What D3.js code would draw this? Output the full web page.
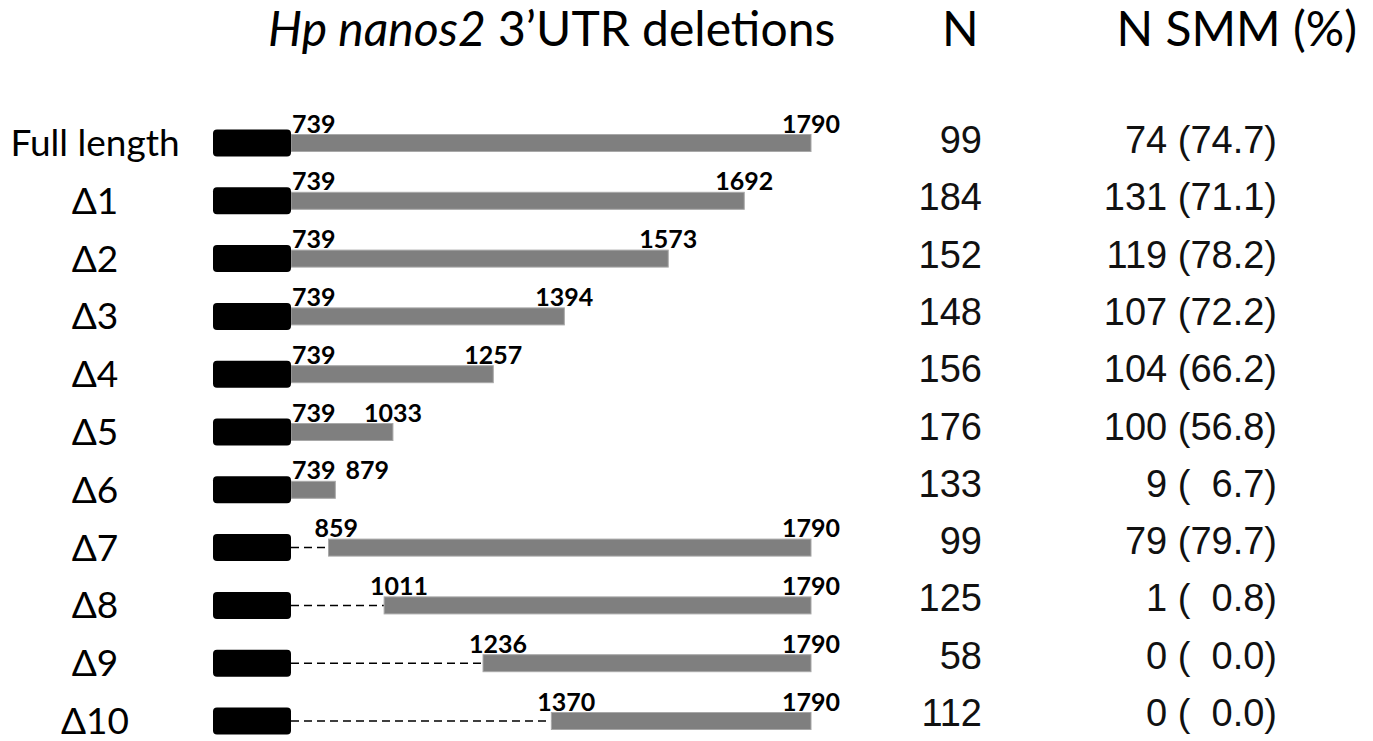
<!DOCTYPE html>
<html>
<head>
<meta charset="utf-8">
<script src="https://cdn.jsdelivr.net/npm/d3@7"></script>
<style>
  html, body { margin: 0; padding: 0; background: #fff; }
  svg text { white-space: pre; }
</style>
</head>
<body>
<svg id="chart" width="1373" height="741"></svg>
<script>
// construct names, nucleotide positions of the kept 3'UTR piece, and the counts
const rowNames = ["Full length", "Δ1", "Δ2", "Δ3", "Δ4", "Δ5", "Δ6", "Δ7", "Δ8", "Δ9", "Δ10"];
const utrStart = [739, 739, 739, 739, 739, 739, 739, 859, 1011, 1236, 1370];
const utrEnd = [1790, 1692, 1573, 1394, 1257, 1033, 879, 1790, 1790, 1790, 1790];
const nTotal = [99, 184, 152, 148, 156, 176, 133, 99, 125, 58, 112];
const nSmm = [74, 131, 119, 107, 104, 100, 9, 79, 1, 0, 0];
const pctSmm = [74.7, 71.1, 78.2, 72.2, 66.2, 56.8, 6.7, 79.7, 0.8, 0.0, 0.0];

const cdsEnd = 739;   // black box = coding region, ends where the 3'UTR starts
const utrMax = 1790;

const rows = rowNames.map((name, i) => ({
  name,
  start: utrStart[i],
  end: utrEnd[i],
  n: nTotal[i],
  smm: nSmm[i],
  pct: pctSmm[i],
}));

const svg = d3.select("#chart");

const boxW = 78, boxH = 27, barH = 17;
const sansFont = "Lato, 'Open Sans', sans-serif";

// schematic, not to scale: a squared scale is closer to the drawing than a linear one
const x = d3.scalePow().exponent(2).domain([cdsEnd, utrMax]).range([291, 811]);
const y = d3.scalePoint().domain(rowNames).range([143, 721]);
const yTable = d3.scalePoint().domain(rowNames).range([140, 713]);

const fmtPct = d3.format(".1f");
const pctText = (d) => `${d.smm} (${d.pct < 10 ? "  " : ""}${fmtPct(d.pct)})`;

// headers
const title = svg.append("text")
  .attr("x", 268).attr("y", 46)
  .attr("font-family", sansFont)
  .attr("font-size", 48)
  .attr("fill", "#000");
title.append("tspan").attr("font-style", "italic").text("Hp nanos2");
title.append("tspan").text(" 3’UTR deletions");

svg.append("text")
  .attr("x", 942).attr("y", 46)
  .attr("font-family", sansFont)
  .attr("font-size", 48)
  .text("N");

svg.append("text")
  .attr("x", 1357).attr("y", 46)
  .attr("text-anchor", "end")
  .attr("font-family", sansFont)
  .attr("font-size", 48)
  .text("N SMM (%)");

// row labels
svg.append("g")
  .selectAll("text")
  .data(rows)
  .enter()
  .append("text")
  .attr("x", 95)
  .attr("y", (d) => y(d.name) + 13)
  .attr("text-anchor", "middle")
  .attr("font-family", sansFont)
  .attr("font-size", 37)
  .text((d) => d.name);

const g = svg.append("g");

// dashed line for the deleted part
g.selectAll("line.gap")
  .data(rows.filter((d) => d.start > cdsEnd))
  .enter()
  .append("line")
  .attr("class", "gap")
  .attr("x1", x(cdsEnd))
  .attr("x2", (d) => x(d.start))
  .attr("y1", (d) => y(d.name))
  .attr("y2", (d) => y(d.name))
  .attr("stroke", "#000")
  .attr("stroke-width", 1.5)
  .attr("stroke-dasharray", "8,5");

// 3'UTR bars
g.selectAll("rect.utr")
  .data(rows)
  .enter()
  .append("rect")
  .attr("class", "utr")
  .attr("x", (d) => x(d.start))
  .attr("y", (d) => y(d.name) - barH / 2)
  .attr("width", (d) => x(d.end) - x(d.start))
  .attr("height", barH)
  .attr("fill", "#7f7f7f")
  .attr("stroke", "#a8a8a8")
  .attr("stroke-width", 1);

// coding region boxes
g.selectAll("rect.cds")
  .data(rows)
  .enter()
  .append("rect")
  .attr("class", "cds")
  .attr("x", x(cdsEnd) - boxW)
  .attr("y", (d) => y(d.name) - boxH / 2)
  .attr("width", boxW)
  .attr("height", boxH)
  .attr("rx", 4)
  .attr("fill", "#000");

// start / end position labels
const startX = (d) => (d.start > cdsEnd ? x(d.start) - 14 : x(d.start) + 1);

g.selectAll("text.start")
  .data(rows)
  .enter()
  .append("text")
  .attr("class", "start")
  .attr("x", startX)
  .attr("y", (d) => y(d.name) - barH / 2 - 2)
  .attr("font-family", sansFont)
  .attr("font-weight", 700)
  .attr("font-size", 25)
  .text((d) => d.start)
  .each(function (d) { d.startW = this.getComputedTextLength(); });

g.selectAll("text.end")
  .data(rows)
  .enter()
  .append("text")
  .attr("class", "end")
  .attr("y", (d) => y(d.name) - barH / 2 - 2)
  .attr("text-anchor", "middle")
  .attr("font-family", sansFont)
  .attr("font-weight", 700)
  .attr("font-size", 25)
  .text((d) => d.end)
  .each(function (d) {
    // short bars: push the end label clear of the start label
    const w = this.getComputedTextLength();
    const minX = startX(d) + d.startW + 10 + w / 2;
    d3.select(this).attr("x", Math.max(x(d.end), minX));
  });

// table columns
const t = svg.append("g")
  .attr("font-family", "'Liberation Sans', Arial, sans-serif")
  .attr("font-size", 38)
  .attr("fill", "#111");

t.selectAll("text.n")
  .data(rows)
  .enter()
  .append("text")
  .attr("class", "n")
  .attr("x", 982)
  .attr("y", (d) => yTable(d.name) + 13)
  .attr("text-anchor", "end")
  .text((d) => d.n);

t.selectAll("text.smm")
  .data(rows)
  .enter()
  .append("text")
  .attr("class", "smm")
  .attr("xml:space", "preserve")
  .attr("x", 1277)
  .attr("y", (d) => yTable(d.name) + 13)
  .attr("text-anchor", "end")
  .text(pctText);
</script>
</body>
</html>
